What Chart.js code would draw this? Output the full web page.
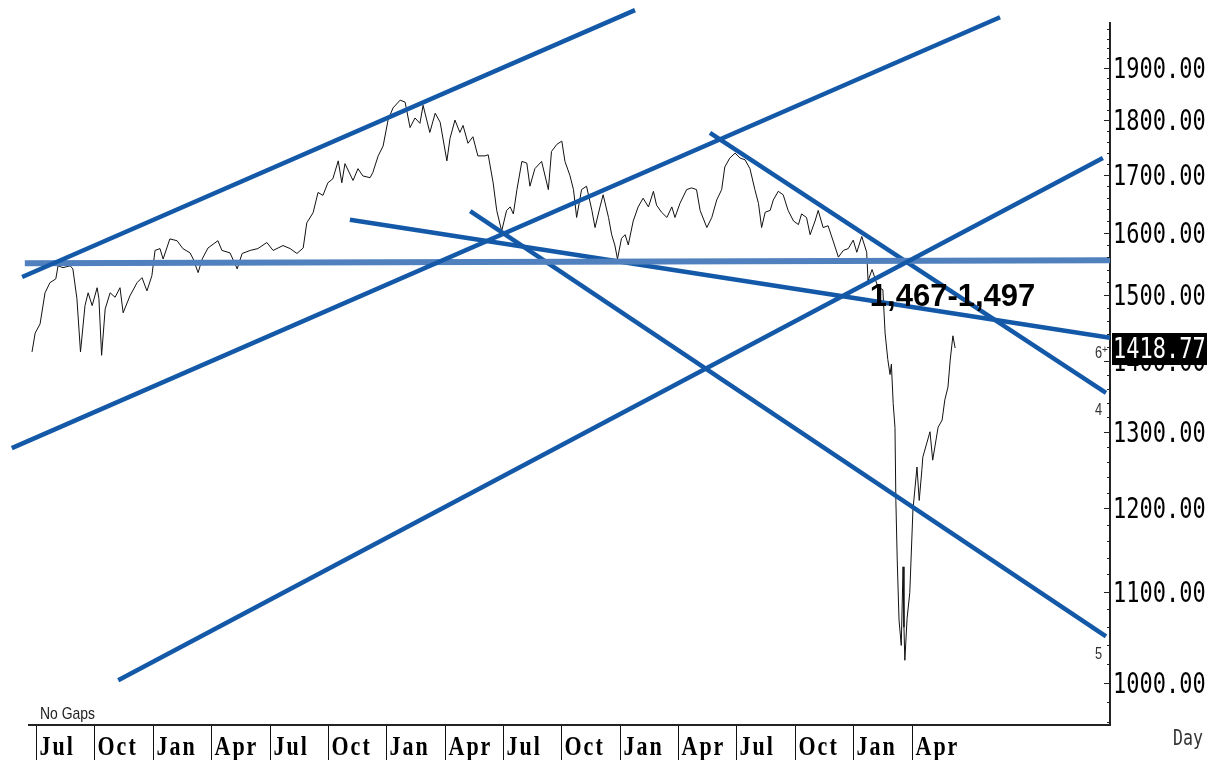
<!DOCTYPE html>
<html>
<head>
<meta charset="utf-8">
<title>Daily chart with trend lines</title>
<script src="https://cdn.jsdelivr.net/npm/chart.js@4.4.1/dist/chart.umd.min.js"></script>
<style>
  html, body { margin: 0; padding: 0; background: #fff; }
  #wrap { width: 1216px; height: 760px; position: relative; }
</style>
</head>
<body>
<div id="wrap"><canvas id="chart"></canvas></div>
<script>
// weekly-ish closes, x = weeks since first bar
const weeks = [
  0.0, 0.7, 1.8, 2.9, 4.0, 5.3, 5.8, 6.9, 8.5, 9.1, 10.0, 10.8, 11.8, 12.5, 13.4, 14.5, 14.9, 15.5, 16.3, 17.4,
  18.5, 19.6, 20.3, 21.8, 23.4, 24.5, 25.6, 26.7, 27.4, 28.5, 29.2, 30.7, 32.3, 33.6, 35.2, 35.9, 37.0, 37.9, 39.2, 41.4,
  42.3, 44.1, 45.7, 46.8, 48.6, 50.3, 52.3, 53.7, 55.9, 57.5, 59.0, 60.4, 61.2, 62.6, 63.7, 64.8, 65.9, 67.0, 68.2, 69.0,
  69.7, 71.5, 72.6, 73.7, 75.3, 75.9, 77.1, 78.2, 79.3, 80.4, 82.0, 83.1, 84.2, 85.3, 86.4, 87.1, 88.6, 89.8, 90.9, 92.4,
  93.1, 94.2, 95.3, 96.0, 97.1, 98.2, 99.3, 100.9, 101.6, 102.7, 103.5, 104.6, 105.7, 106.5, 107.2, 108.0, 109.1, 110.2, 110.9, 112.0,
  113.5, 115.0, 115.7, 116.9, 118.0, 118.7, 119.8, 120.6, 121.3, 122.4, 123.5, 124.7, 125.4, 126.5, 127.2, 128.4, 129.1, 129.8, 130.4, 131.3,
  132.1, 132.8, 133.9, 135.0, 136.1, 137.3, 138.4, 139.1, 140.2, 141.4, 142.5, 143.2, 144.3, 145.8, 146.9, 148.0, 148.8, 150.3, 151.4, 152.5,
  153.6, 154.3, 155.4, 156.6, 157.7, 158.8, 159.9, 161.0, 161.8, 162.5, 163.3, 164.4, 165.1, 166.2, 167.3, 168.4, 169.6, 170.7, 171.4, 172.5,
  173.3, 174.4, 175.1, 176.2, 177.3, 178.5, 179.6, 180.7, 181.8, 182.9, 183.7, 184.8, 185.9, 186.2, 187.1, 188.4, 189.5, 190.0, 190.6, 191.1,
  191.4, 191.8, 192.2, 192.4, 192.7, 193.1, 193.6, 194.0, 194.2, 194.4, 194.9, 195.5, 196.2, 197.1, 197.6, 198.2, 198.4, 199.3, 200.0, 200.6,
  201.8, 202.7, 203.3, 204.0, 204.5, 205.1, 205.6
];
const closes = [
  1413, 1441, 1455, 1503, 1519, 1525, 1546, 1543, 1546, 1541, 1494, 1413, 1483, 1503, 1483, 1511, 1494, 1408, 1478, 1503,
  1496, 1511, 1472, 1498, 1519, 1527, 1506, 1530, 1571, 1574, 1557, 1590, 1587, 1574, 1567, 1557, 1535, 1557, 1575, 1587,
  1571, 1567, 1541, 1566, 1571, 1574, 1584, 1571, 1579, 1574, 1566, 1575, 1617, 1634, 1669, 1664, 1686, 1693, 1725, 1686,
  1720, 1690, 1711, 1698, 1695, 1704, 1734, 1752, 1800, 1823, 1838, 1834, 1786, 1804, 1794, 1828, 1777, 1813, 1796, 1725,
  1766, 1800, 1777, 1790, 1757, 1769, 1734, 1734, 1736, 1686, 1638, 1603, 1638, 1644, 1632, 1674, 1724, 1721, 1680, 1711,
  1724, 1674, 1742, 1755, 1761, 1724, 1699, 1674, 1626, 1674, 1680, 1638, 1609, 1644, 1665, 1626, 1597, 1580, 1557, 1591,
  1597, 1580, 1620, 1644, 1659, 1644, 1671, 1647, 1635, 1626, 1644, 1626, 1650, 1674, 1677, 1674, 1638, 1609, 1626, 1656,
  1674, 1714, 1730, 1739, 1730, 1727, 1711, 1674, 1650, 1609, 1635, 1638, 1656, 1671, 1665, 1638, 1620, 1614, 1632, 1626,
  1597, 1620, 1638, 1609, 1612, 1585, 1560, 1571, 1574, 1588, 1568, 1594, 1568, 1522, 1540, 1512, 1508, 1441, 1402, 1380,
  1395, 1339, 1306, 1210, 1137, 1068, 1040, 1129, 1060, 1024, 1070, 1099, 1198, 1253, 1210, 1250, 1266, 1285, 1300, 1262,
  1306, 1316, 1344, 1362, 1401, 1437, 1418.77
];
const lastClose = 1418.77;

// quarter starts on the week axis
const quarterWeeks = [0.9, 13.9, 26.9, 39.9, 52.9, 65.9, 78.9, 91.9, 104.9, 117.9, 130.9, 143.9, 156.9, 169.9, 182.9, 195.9];
const quarterLabels = ['Jul', 'Oct', 'Jan', 'Apr', 'Jul', 'Oct', 'Jan', 'Apr', 'Jul', 'Oct', 'Jan', 'Apr', 'Jul', 'Oct', 'Jan', 'Apr'];
const priceTicks = [1000, 1100, 1200, 1300, 1400, 1500, 1600, 1700, 1800, 1900];

// trend lines [week, price]
const upperChannel = [[-2.2, 1528], [134.3, 2019]];
const lowerChannel = [[-4.5, 1278], [215.6, 2004]];
const risingSupport = [[19.2, 1003], [238.5, 1730]];
const flatSupport = [[-1.6, 1550], [240.1, 1555]];
const shallowDown = [[70.8, 1622], [240.1, 1434]];
const steepDown = [[97.6, 1637], [239.2, 1050]];
const peakDown = [[151.0, 1776], [239.2, 1354]];

const targetZone = '1,467-1,497';

const BLUE = '#1459a8';
const LIGHT_BLUE = '#5080bd';

function trend(pts, color, width) {
  return {
    data: pts.map(p => ({ x: p[0], y: p[1] })),
    borderColor: color,
    borderWidth: width,
    pointRadius: 0,
    borderCapStyle: 'butt',
    clip: false,
    order: 0
  };
}

// stretched text, the terminal fonts are tall and narrow
function tallText(ctx, text, px, py, sy, sx) {
  ctx.save();
  ctx.translate(px, py);
  ctx.scale(sx || 1, sy);
  ctx.fillText(text, 0, 0);
  ctx.restore();
}

const decor = {
  id: 'decor',
  afterDraw(chart) {
    const ctx = chart.ctx;
    const xs = chart.scales.x;
    const ys = chart.scales.y;
    const area = chart.chartArea;
    ctx.save();

    // price axis ticks, inside the plot
    ctx.strokeStyle = '#222';
    ctx.lineWidth = 1;
    for (let v = 960; v <= 1980; v += 20) {
      const py = Math.round(ys.getPixelForValue(v)) + 0.5;
      const len = v % 100 === 0 ? 6 : 3;
      ctx.beginPath();
      ctx.moveTo(area.right - len, py);
      ctx.lineTo(area.right, py);
      ctx.stroke();
    }

    ctx.fillStyle = '#000';
    ctx.textAlign = 'left';
    ctx.textBaseline = 'alphabetic';
    ctx.font = '22px "DejaVu Sans Mono"';
    priceTicks.forEach(v => {
      tallText(ctx, v.toFixed(2), area.right + 3, ys.getPixelForValue(v) + 10, 1.26);
    });

    // last price badge
    const lp = ys.getPixelForValue(lastClose);
    ctx.fillStyle = '#000';
    ctx.fillRect(area.right + 2, lp - 15, 95, 32);
    ctx.fillStyle = '#fff';
    tallText(ctx, lastClose.toFixed(2), area.right + 3, lp + 10, 1.26);

    // quarter separators + month names
    ctx.strokeStyle = '#111';
    ctx.fillStyle = '#000';
    ctx.font = 'bold 22px "Liberation Serif"';
    ctx.letterSpacing = '2px';
    quarterWeeks.forEach((w, i) => {
      const px = Math.round(xs.getPixelForValue(w)) + 0.5;
      ctx.beginPath();
      ctx.moveTo(px, area.bottom + 1);
      ctx.lineTo(px, chart.height);
      ctx.stroke();
      tallText(ctx, quarterLabels[i], px + 3, area.bottom + 30, 1.25);
    });
    ctx.letterSpacing = '0px';

    // target zone text
    ctx.font = 'bold 31px "Liberation Sans"';
    ctx.fillStyle = '#000';
    ctx.fillText(targetZone, xs.getPixelForValue(186.6), ys.getPixelForValue(1482));

    // wave counts under the line ends
    ctx.fillStyle = '#333';
    ctx.font = '16px "Liberation Sans"';
    const lx = area.right - 15;
    tallText(ctx, '6', lx, ys.getPixelForValue(shallowDown[1][1]) + 20, 1, 0.8);
    tallText(ctx, '4', lx, ys.getPixelForValue(peakDown[1][1]) + 22, 1, 0.8);
    tallText(ctx, '5', lx, ys.getPixelForValue(steepDown[1][1]) + 23, 1, 0.8);
    ctx.font = '10px "Liberation Sans"';
    ctx.fillText('+', lx + 7, ys.getPixelForValue(shallowDown[1][1]) + 15);

    ctx.fillStyle = '#222';
    ctx.font = '17px "Liberation Sans"';
    tallText(ctx, 'No Gaps', 40, area.bottom - 6, 1, 0.82);

    ctx.fillStyle = '#333';
    ctx.font = '16.6px "DejaVu Sans Mono"';
    tallText(ctx, 'Day', 1173, area.bottom + 20, 1.24);

    ctx.restore();
  }
};

const config = {
  type: 'line',
  data: {
    datasets: [
      trend(upperChannel, BLUE, 4.5),
      trend(lowerChannel, BLUE, 4.5),
      trend(risingSupport, BLUE, 4.5),
      trend(flatSupport, LIGHT_BLUE, 6),
      trend(shallowDown, BLUE, 4.5),
      trend(steepDown, BLUE, 4.5),
      trend(peakDown, BLUE, 4.5),
      {
        data: weeks.map((w, i) => ({ x: w, y: closes[i] })),
        borderColor: '#111',
        borderWidth: 1,
        pointRadius: 0,
        tension: 0,
        order: 1
      }
    ]
  },
  options: {
    responsive: true,
    maintainAspectRatio: false,
    animation: false,
    events: [],
    layout: { padding: { left: 29, top: 23, right: 106, bottom: 35 } },
    plugins: { legend: { display: false }, tooltip: { enabled: false } },
    scales: {
      x: {
        type: 'linear',
        min: -0.67,
        max: 240.09,
        bounds: 'data',
        ticks: { display: false },
        grid: { display: false, drawTicks: false, tickLength: 0 },
        border: { display: true, color: '#222', width: 2 }
      },
      y: {
        type: 'logarithmic',
        position: 'right',
        min: 957.1,
        max: 1992.1,
        bounds: 'data',
        ticks: { display: false },
        grid: { display: false, drawTicks: false, tickLength: 0 },
        border: { display: true, color: '#222', width: 2 }
      }
    }
  },
  plugins: [decor]
};

new Chart(document.getElementById('chart'), config);
</script>
</body>
</html>
